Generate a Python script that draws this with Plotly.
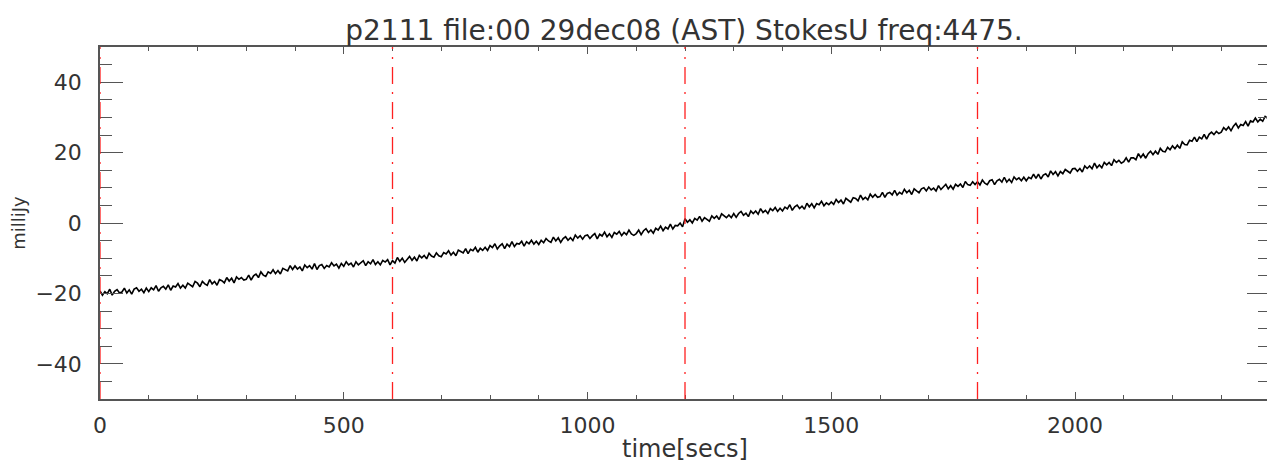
import plotly.graph_objects as go

t_start = 0
t_step = 5
stokes_u = [
    -19.3, -20.5, -19.5, -20.1, -18.8, -20.5, -19.4, -18.9, -19.9, -19.6, -18.5, -19.9, -19.0, -20.2, -18.8, -18.4, -19.4, -18.8, -19.8, -18.5,
    -19.5, -18.4, -19.0, -17.8, -19.4, -18.4, -18.0, -18.8, -17.6, -19.1, -17.9, -18.2, -17.2, -18.5, -17.7, -18.5, -17.1, -17.5, -18.1, -16.6,
    -17.1, -18.1, -16.6, -17.3, -17.7, -16.1, -17.3, -16.6, -17.7, -16.1, -16.4, -17.0, -15.5, -16.5, -15.7, -17.0, -15.3, -16.0, -15.5, -16.2,
    -16.0, -14.8, -16.2, -15.0, -14.5, -15.5, -13.9, -14.8, -15.2, -13.9, -14.3, -13.3, -14.4, -13.5, -14.5, -12.9, -13.3, -13.6, -12.1, -13.2,
    -12.2, -13.1, -12.5, -13.6, -11.9, -12.7, -12.1, -13.1, -11.5, -13.2, -12.1, -11.8, -12.9, -12.1, -12.5, -11.3, -12.2, -11.7, -12.8, -11.5,
    -12.3, -11.0, -11.9, -11.4, -12.5, -11.0, -11.9, -11.4, -10.7, -12.1, -11.0, -11.6, -10.4, -11.8, -11.0, -11.9, -10.6, -11.1, -10.4, -11.9,
    -10.7, -11.4, -9.8, -10.9, -10.0, -11.2, -10.2, -9.5, -10.6, -9.7, -10.8, -9.2, -9.9, -9.2, -10.2, -8.6, -9.4, -9.7, -8.5, -9.3,
    -9.6, -8.4, -8.8, -7.9, -9.1, -8.3, -9.3, -7.7, -8.1, -8.5, -7.3, -8.7, -7.5, -7.9, -6.9, -8.3, -7.2, -7.8, -6.9, -7.8,
    -6.4, -7.0, -5.9, -7.4, -6.5, -5.9, -7.3, -6.0, -6.7, -5.3, -6.7, -5.8, -6.0, -5.2, -6.6, -5.3, -5.9, -4.9, -6.0, -5.2,
    -6.1, -4.9, -5.6, -4.4, -5.1, -5.5, -4.0, -5.1, -4.2, -5.5, -4.4, -3.9, -4.9, -4.2, -5.0, -3.4, -4.3, -3.6, -4.6, -3.6,
    -3.4, -4.4, -3.6, -3.0, -4.5, -3.2, -3.7, -2.6, -3.9, -3.1, -4.1, -2.7, -3.2, -2.4, -3.6, -2.7, -3.3, -2.0, -3.1, -3.5,
    -3.0, -2.0, -3.3, -2.2, -1.6, -2.7, -2.0, -2.9, -1.5, -2.0, -0.9, -2.2, -1.2, -1.7, -0.3, -1.7, -0.7, -0.8, 0.0, -1.1,
    1.2, 0.2, 0.9, 0.0, 1.3, 0.8, 1.9, 0.5, 1.5, 1.0, 0.5, 2.0, 1.3, 2.0, 1.0, 2.6, 2.0, 1.5, 2.3, 1.5,
    2.7, 1.6, 2.7, 3.3, 2.2, 2.8, 1.8, 3.4, 2.7, 3.4, 2.5, 4.1, 3.0, 3.6, 2.7, 4.1, 3.5, 4.4, 3.3, 4.2,
    3.4, 4.5, 4.0, 5.2, 3.6, 4.6, 5.1, 4.1, 4.8, 3.9, 5.6, 4.6, 5.5, 4.3, 5.5, 5.2, 6.2, 4.9, 5.7, 5.2,
    6.0, 5.3, 6.7, 5.8, 6.5, 5.4, 7.0, 6.4, 5.9, 7.2, 7.0, 6.3, 7.9, 6.7, 7.3, 6.6, 8.2, 7.3, 8.1, 7.3,
    7.5, 8.7, 7.3, 8.4, 8.7, 8.0, 9.3, 7.9, 8.7, 8.2, 9.6, 8.6, 9.3, 8.1, 9.7, 9.1, 8.6, 9.7, 10.0, 9.1,
    10.2, 9.4, 9.9, 9.1, 10.6, 9.5, 10.4, 11.0, 9.7, 10.6, 9.6, 11.0, 10.4, 11.1, 10.1, 11.8, 10.9, 10.7, 11.7, 10.9,
    11.7, 10.8, 12.2, 11.3, 10.9, 12.0, 12.3, 10.9, 12.0, 12.4, 11.6, 13.0, 11.6, 12.4, 11.5, 13.1, 12.3, 12.8, 12.0, 13.0,
    12.0, 13.0, 12.6, 13.9, 12.7, 13.9, 12.5, 13.6, 14.0, 13.1, 14.8, 13.8, 14.6, 13.4, 14.6, 14.0, 15.2, 14.6, 14.2, 15.4,
    15.5, 14.7, 15.5, 14.5, 16.2, 15.5, 16.2, 15.4, 17.0, 15.7, 16.5, 15.7, 17.2, 16.5, 17.2, 16.3, 18.0, 17.2, 17.8, 17.0,
    17.4, 18.5, 17.3, 18.5, 18.5, 18.0, 19.7, 18.6, 19.6, 18.4, 19.7, 20.4, 19.4, 20.4, 19.5, 21.2, 20.4, 20.2, 21.5, 20.8,
    21.9, 21.1, 22.1, 21.2, 23.1, 22.3, 22.2, 23.5, 23.2, 24.4, 23.1, 24.4, 23.9, 25.2, 23.8, 25.2, 25.8, 25.1, 26.0, 25.4,
    25.8, 27.1, 26.4, 27.3, 26.2, 27.5, 28.3, 27.0, 28.0, 27.7, 28.8, 27.5, 29.0, 28.7, 29.8, 28.7, 29.5, 28.9, 30.3, 29.8,
    30.4,
]
marker_times = [0, 600, 1200, 1800]

title_text = "p2111 file:00 29dec08 (AST) StokesU freq:4475."
x_label = "time[secs]"
y_label = "milliJy"

times = [t_start + i * t_step for i in range(len(stokes_u))]

W, H = 1262, 455

fig = go.Figure()
fig.add_trace(go.Scatter(x=times, y=stokes_u, mode="lines",
                         line=dict(color="black", width=1.6),
                         showlegend=False, hoverinfo="skip"))

for mt in marker_times:
    fig.add_shape(type="line", xref="x", yref="paper", x0=mt, x1=mt, y0=0, y1=1,
                  line=dict(color="#ff2020", width=1.3, dash="17px,8px,2px,8px"),
                  layer="above")

font_family = "DejaVu Sans, Verdana, sans-serif"
axis_col = "#555555"

fig.update_layout(
    width=W, height=H,
    margin=dict(l=92, r=0, t=39, b=64, autoexpand=False),
    paper_bgcolor="white", plot_bgcolor="white",
    font=dict(family=font_family, size=20, color="#333333"),
    title=dict(text=title_text, x=676 / W, xanchor="center", xref="container",
               y=1 - 22 / H, yanchor="middle", yref="container",
               font=dict(size=28, color="#333333")),
    showlegend=False,
)
fig.update_xaxes(
    range=[0, 2400], showgrid=False, zeroline=False, automargin=False,
    showline=True, linecolor=axis_col, linewidth=1.5, mirror="allticks",
    ticks="inside", ticklen=7, tickcolor=axis_col, tickwidth=1.2,
    tickmode="linear", tick0=0, dtick=500,
    minor=dict(ticks="inside", ticklen=4, dtick=100, tickcolor=axis_col, tickwidth=1),
    title=dict(text=x_label, font=dict(size=24), standoff=6),
    tickfont=dict(size=22), ticklabelstandoff=6,
)
fig.update_yaxes(
    range=[-50, 50], showgrid=False, zeroline=False, automargin=False,
    showline=True, linecolor=axis_col, linewidth=1.5, mirror="allticks",
    ticks="inside", ticklen=23, tickcolor=axis_col, tickwidth=1.2,
    tickmode="linear", tick0=-40, dtick=20,
    minor=dict(ticks="inside", ticklen=12, dtick=5, tickcolor=axis_col, tickwidth=1),
    title=dict(text=y_label, font=dict(size=18), standoff=16),
    tickfont=dict(size=22), ticklabelstandoff=12,
)

fig.write_html("out.html")
